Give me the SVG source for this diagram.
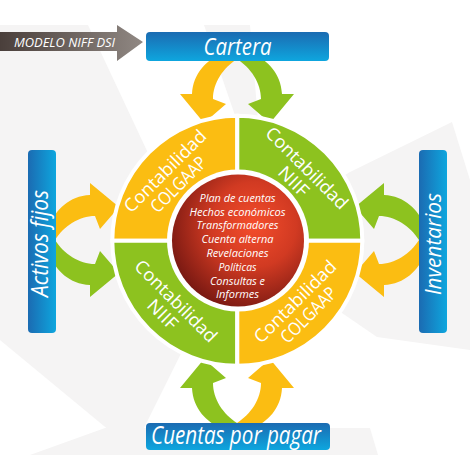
<svg xmlns="http://www.w3.org/2000/svg" width="470" height="471" viewBox="0 0 470 471">
<defs>
<linearGradient id="blueV" x1="0" y1="0" x2="0" y2="1"><stop offset="0" stop-color="#1b6bb2"/><stop offset="1" stop-color="#0ea6de"/></linearGradient>
<linearGradient id="blueH" x1="0" y1="0" x2="1" y2="0"><stop offset="0" stop-color="#1b6bb2"/><stop offset="1" stop-color="#0ea6de"/></linearGradient>
<linearGradient id="greyArrow" x1="0" y1="0" x2="1" y2="0"><stop offset="0" stop-color="#4a3f3b"/><stop offset="1" stop-color="#908883"/></linearGradient>
<radialGradient id="ball" cx="0.62" cy="0.38" r="0.72"><stop offset="0" stop-color="#f44d2c"/><stop offset="0.45" stop-color="#d13a22"/><stop offset="1" stop-color="#6c1410"/></radialGradient>
<path id="arw" d="M 0 -5 L -16 -5 C -30 1, -44 14, -45 35 L -57 35 L -33 64 L -11 45 L -24 40 C -24 24, -14 9, 0 0 Z"/>
</defs>
<style>
.yel{fill:#fbbd12}
.grn{fill:#8dc21f}
.q{stroke:#ffffff;stroke-width:4}
.box{font-family:"Open Sans","DejaVu Sans",sans-serif;font-style:italic;fill:#ffffff;text-anchor:middle}
.qt{font-family:"Open Sans","DejaVu Sans",sans-serif;font-size:18px;fill:#ffffff;text-anchor:middle}
.ct{font-family:"Open Sans","DejaVu Sans",sans-serif;font-style:italic;font-size:11.5px;fill:#ffffff;text-anchor:middle}
.bg{fill:#f5f4f4}
</style>
<rect width="470" height="471" fill="#ffffff"/>
<g id="background">
<polygon class="bg" points="0,25 88,25 170,200 237,241 133,450 0,340"/>
<polygon class="bg" points="204,25 250,25 265,203"/>
<polygon class="bg" points="237,241 350,172 452,122 470,180 470,350 377,337"/>
<polygon class="bg" points="105,428 370,428 378,455 30,455"/>
</g>
<g id="connectors">
<use href="#arw" class="yel" transform="translate(237 59)"/>
<use href="#arw" class="grn" transform="matrix(-1 0 0 1 237 59)"/>
<use href="#arw" class="yel" transform="matrix(0 1 1 0 55 240)"/>
<use href="#arw" class="grn" transform="matrix(0 -1 1 0 55 240)"/>
<use href="#arw" class="grn" transform="matrix(0 1 -1 0 419 240)"/>
<use href="#arw" class="yel" transform="matrix(0 -1 -1 0 419 240)"/>
<use href="#arw" class="grn" transform="matrix(1 0 0 -1 237 423)"/>
<use href="#arw" class="yel" transform="matrix(-1 0 0 -1 237 423)"/>
</g>
<g id="modelo">
<polygon points="0,32 117,32 117,25 143,42 117,61 117,51 0,51" fill="url(#greyArrow)"/>
<text class="box" x="64.5" y="46.7" font-size="13.5" textLength="101" lengthAdjust="spacingAndGlyphs">MODELO NIFF DSI</text>
</g>
<g id="cartera">
<rect x="146" y="32" width="183" height="29" rx="4" fill="url(#blueV)"/>
<text class="box" x="237.5" y="55" font-size="23.5" textLength="68" lengthAdjust="spacingAndGlyphs">Cartera</text>
</g>
<g id="activos">
<rect x="28" y="150" width="28" height="183" rx="4" fill="url(#blueH)"/>
<text class="box" transform="translate(48.3 243.5) rotate(-90)" font-size="23" textLength="107" lengthAdjust="spacingAndGlyphs">Activos fijos</text>
</g>
<g id="inventarios">
<rect x="419" y="150" width="28" height="183" rx="4" fill="url(#blueH)"/>
<text class="box" transform="translate(440.7 244) rotate(-90)" font-size="22" textLength="102" lengthAdjust="spacingAndGlyphs">Inventarios</text>
</g>
<g id="cuentas">
<rect x="146" y="423" width="184" height="27" rx="4" fill="url(#blueV)"/>
<text class="box" x="236" y="444" font-size="25" textLength="170" lengthAdjust="spacingAndGlyphs">Cuentas por pagar</text>
</g>
<g id="q-colgaap-tl">
<path class="yel q" d="M 237.3 240.8 L 112.3 240.8 A 125 125 0 0 1 237.3 115.8 Z"/>
<g transform="translate(169.5 175.5) rotate(-45)"><text class="qt" x="0" y="0" textLength="108" lengthAdjust="spacingAndGlyphs">Contabilidad</text><text class="qt" x="0" y="19" textLength="71" lengthAdjust="spacingAndGlyphs">COLGAAP</text></g>
</g>
<g id="q-niif-tr">
<path class="grn q" d="M 237.3 240.8 L 237.3 115.8 A 125 125 0 0 1 362.3 240.8 Z"/>
<g transform="translate(302.5 172.5) rotate(45)"><text class="qt" x="0" y="0" textLength="108" lengthAdjust="spacingAndGlyphs">Contabilidad</text><text class="qt" x="0" y="19" textLength="35" lengthAdjust="spacingAndGlyphs">NIIF</text></g>
</g>
<g id="q-niif-bl">
<path class="grn q" d="M 237.3 240.8 L 237.3 365.8 A 125 125 0 0 1 112.3 240.8 Z"/>
<g transform="translate(171.5 305.5) rotate(45)"><text class="qt" x="0" y="0" textLength="108" lengthAdjust="spacingAndGlyphs">Contabilidad</text><text class="qt" x="0" y="19" textLength="35" lengthAdjust="spacingAndGlyphs">NIIF</text></g>
</g>
<g id="q-colgaap-br">
<path class="yel q" d="M 237.3 240.8 L 362.3 240.8 A 125 125 0 0 1 237.3 365.8 Z"/>
<g transform="translate(299.5 306) rotate(-45)"><text class="qt" x="0" y="0" textLength="108" lengthAdjust="spacingAndGlyphs">Contabilidad</text><text class="qt" x="0" y="19" textLength="71" lengthAdjust="spacingAndGlyphs">COLGAAP</text></g>
</g>
<g id="centro">
<circle cx="238" cy="240.5" r="71" fill="#ffffff"/>
<circle cx="238" cy="240.5" r="66" fill="url(#ball)"/>
<text class="ct" x="237.5" y="201.7" textLength="76" lengthAdjust="spacingAndGlyphs">Plan de cuentas</text>
<text class="ct" x="237.5" y="215.5" textLength="96" lengthAdjust="spacingAndGlyphs">Hechos económicos</text>
<text class="ct" x="237.5" y="229.3" textLength="82" lengthAdjust="spacingAndGlyphs">Transformadores</text>
<text class="ct" x="237.5" y="243.1" textLength="72" lengthAdjust="spacingAndGlyphs">Cuenta alterna</text>
<text class="ct" x="237.5" y="256.9" textLength="62" lengthAdjust="spacingAndGlyphs">Revelaciones</text>
<text class="ct" x="237.5" y="270.7" textLength="38" lengthAdjust="spacingAndGlyphs">Políticas</text>
<text class="ct" x="237.5" y="284.5" textLength="55" lengthAdjust="spacingAndGlyphs">Consultas e</text>
<text class="ct" x="237.5" y="298.3" textLength="43" lengthAdjust="spacingAndGlyphs">Informes</text>
</g>
</svg>
